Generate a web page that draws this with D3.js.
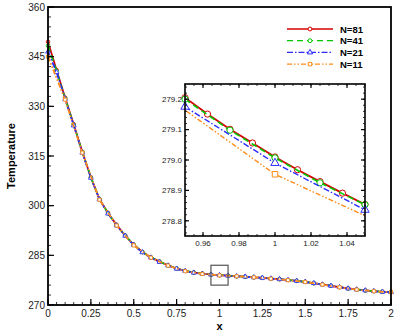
<!DOCTYPE html>
<html>
<head>
<meta charset="utf-8">
<script src="https://cdn.jsdelivr.net/npm/d3@7"></script>
<style>
  body { margin: 0; background: #fff; }
  svg { display: block; font-family: "Liberation Sans", Arial, sans-serif; }
</style>
</head>
<body>
<div id="chart"></div>
<script>
// main plot data (x = position, T = temperature)
const x05 = [0, 0.05, 0.1, 0.15, 0.2, 0.25, 0.3, 0.35, 0.4, 0.45, 0.5, 0.55, 0.6, 0.65, 0.7, 0.75, 0.8, 0.85, 0.9, 0.95,
  1, 1.05, 1.1, 1.15, 1.2, 1.25, 1.3, 1.35, 1.4, 1.45, 1.5, 1.55, 1.6, 1.65, 1.7, 1.75, 1.8, 1.85, 1.9, 1.95, 2];
const x10 = [0, 0.1, 0.2, 0.3, 0.4, 0.5, 0.6, 0.7, 0.8, 0.9, 1, 1.1, 1.2, 1.3, 1.4, 1.5, 1.6, 1.7, 1.8, 1.9, 2];

const t81 = [349.5, 341.0, 332.6, 324.6, 316.3, 308.6, 302.0, 297.8, 294.2, 291.0, 288.2, 286.0, 284.4, 283.1, 282.0,
  281.0, 280.3, 279.8, 279.45, 279.205, 279.01, 278.854, 278.7, 278.55, 278.38, 278.2, 278.0, 277.8, 277.55, 277.3,
  277.0, 276.6, 276.2, 275.8, 275.4, 275.0, 274.7, 274.4, 274.2, 274.0, 273.9];
const t41 = [348.3, 340.7, 332.4, 324.4, 316.2, 308.5, 302.0, 297.7, 294.1, 291.0, 288.2, 286.0, 284.4, 283.1, 282.0,
  281.0, 280.3, 279.8, 279.44, 279.2, 279.007, 278.853, 278.7, 278.55, 278.37, 278.2, 278.0, 277.8, 277.55, 277.3,
  277.0, 276.6, 276.2, 275.8, 275.4, 275.0, 274.7, 274.4, 274.2, 274.0, 273.9];
const t21 = [346.5, 340.3, 332.2, 324.2, 316.0, 308.4, 301.9, 297.6, 294.0, 290.9, 288.1, 285.9, 284.3, 283.0, 281.9,
  280.95, 280.25, 279.75, 279.42, 279.175, 278.99, 278.836, 278.69, 278.54, 278.36, 278.18, 277.98, 277.78, 277.53, 277.28,
  276.98, 276.58, 276.18, 275.78, 275.38, 274.98, 274.68, 274.4, 274.18, 273.98, 273.88];
const t11 = [345.0, 332.0, 316.0, 301.8, 294.0, 288.0, 284.3, 281.9, 280.2, 279.375, 278.953, 278.68, 278.35, 277.95,
  277.5, 276.95, 276.15, 275.35, 274.65, 274.15, 273.85];

// inset data (zoom around x = 1)
const ix81 = [0.95, 0.9625, 0.975, 0.9875, 1, 1.0125, 1.025, 1.0375, 1.05];
const it81 = [279.205, 279.151, 279.101, 279.056, 279.01, 278.968, 278.929, 278.891, 278.854];
const ix41 = [0.95, 0.975, 1, 1.025, 1.05];
const it41 = [279.2, 279.098, 279.007, 278.925, 278.853];
const ix21 = [0.95, 1, 1.05];
const it21 = [279.175, 278.99, 278.836];
const ix11 = [0.9, 1, 1.1];
const it11 = [279.375, 278.953, 278.68];

const labels = ["N=81", "N=41", "N=21", "N=11"];
const xTicks = [0, 0.25, 0.5, 0.75, 1, 1.25, 1.5, 1.75, 2];
const yTicks = [270, 285, 300, 315, 330, 345, 360];
const ixTicks = [0.96, 0.98, 1, 1.02, 1.04];
const iyTicks = [278.8, 278.9, 279.0, 279.1, 279.2];

const styles = [
  { color: "#d40000", dash: null, width: 1.8, mark: "circle" },
  { color: "#00c800", dash: "6,4", width: 1.6, mark: "circle" },
  { color: "#2a2aff", dash: "6,2,1.5,2", width: 1.4, mark: "triangle" },
  { color: "#ff8c1a", dash: "5,2,1.5,2,1.5,2", width: 1.4, mark: "square" }
];

const mainSeries = [
  { x: x05, t: t81 }, { x: x05, t: t41 }, { x: x05, t: t21 }, { x: x10, t: t11 }
];
const insetSeries = [
  { x: ix81, t: it81 }, { x: ix41, t: it41 }, { x: ix21, t: it21 }, { x: ix11, t: it11 }
];

const W = 399, H = 333;
const svg = d3.select("#chart").append("svg").attr("width", W).attr("height", H);

const symbol = (kind, size) => {
  const s = { circle: d3.symbolCircle, triangle: d3.symbolTriangle, square: d3.symbolSquare }[kind];
  return d3.symbol().type(s).size(size)();
};

/**
 * draw one framed plot with inward ticks
 */
const drawPlot = (g, opts) => {
  const { xScale, yScale, xMajor, yMajor, xMinor, yMinor, majLen, minLen, mirror, fontSize, xFmt, yFmt } = opts;
  const [x0, x1] = xScale.range();
  const [y0, y1] = yScale.range();

  const ticks = g.append("g").attr("stroke", "#000");
  const addTicks = (vals, len, w) => {
    vals.forEach((v) => {
      const px = xScale(v);
      ticks.append("line").attr("x1", px).attr("x2", px).attr("y1", y0).attr("y2", y0 - len).attr("stroke-width", w);
      if (mirror) ticks.append("line").attr("x1", px).attr("x2", px).attr("y1", y1).attr("y2", y1 + len).attr("stroke-width", w);
    });
  };
  const addYTicks = (vals, len, w) => {
    vals.forEach((v) => {
      const py = yScale(v);
      ticks.append("line").attr("x1", x0).attr("x2", x0 + len).attr("y1", py).attr("y2", py).attr("stroke-width", w);
      if (mirror) ticks.append("line").attr("x1", x1).attr("x2", x1 - len).attr("y1", py).attr("y2", py).attr("stroke-width", w);
    });
  };
  addTicks(xMinor, minLen, 0.8);
  addTicks(xMajor, majLen, 1.2);
  addYTicks(yMinor, minLen, 0.8);
  addYTicks(yMajor, majLen, 1.2);

  g.append("g").selectAll("text").data(xMajor).join("text")
    .attr("x", (d) => xScale(d)).attr("y", y0 + fontSize + 2)
    .attr("text-anchor", "middle").attr("font-size", fontSize).attr("fill", "#222")
    .text(xFmt);
  g.append("g").selectAll("text").data(yMajor).join("text")
    .attr("x", x0 - 3).attr("y", (d) => yScale(d) + fontSize * 0.35)
    .attr("text-anchor", "end").attr("font-size", fontSize).attr("fill", "#222")
    .text(yFmt);
};

const drawSeries = (g, series, xScale, yScale, clipId, markerSize, inset) => {
  const [xa, xb] = xScale.domain();
  series.forEach((s, i) => {
    const st = styles[i];
    const pts = s.x.map((x, k) => ({ x, t: s.t[k] }));
    const line = d3.line().x((d) => xScale(d.x)).y((d) => yScale(d.t));
    g.append("path").datum(pts)
      .attr("clip-path", `url(#${clipId})`)
      .attr("fill", "none").attr("stroke", st.color)
      .attr("stroke-width", inset ? st.width : 1.7)
      .attr("stroke-dasharray", st.dash)
      .attr("d", line);
    g.append("g").selectAll("path").data(pts.filter((d) => d.x >= xa - 1e-9 && d.x <= xb + 1e-9)).join("path")
      .attr("transform", (d) => `translate(${xScale(d.x)},${yScale(d.t)})`)
      .attr("d", symbol(st.mark, markerSize))
      .attr("fill", "#fff").attr("stroke", st.color).attr("stroke-width", inset ? 1 : 0.9);
  });
};

// ---------- main plot ----------
const margin = { left: 48, right: 391, top: 7, bottom: 305 };
const xScale = d3.scaleLinear().domain([0, 2]).range([margin.left, margin.right]);
const yScale = d3.scaleLinear().domain([270, 360]).range([margin.bottom, margin.top]);

const defs = svg.append("defs");
defs.append("clipPath").attr("id", "clipMain").append("rect")
  .attr("x", margin.left).attr("y", margin.top)
  .attr("width", margin.right - margin.left).attr("height", margin.bottom - margin.top);

const main = svg.append("g");
drawSeries(main, mainSeries, xScale, yScale, "clipMain", 10, false);

drawPlot(main, {
  xScale, yScale, xMajor: xTicks, yMajor: yTicks,
  xMinor: d3.range(0, 2.0001, 0.05), yMinor: d3.range(270, 360.001, 3),
  majLen: 6, minLen: 3, mirror: false, fontSize: 10,
  xFmt: (d) => String(d), yFmt: (d) => String(d)
});

// zoom window marker
main.append("rect")
  .attr("x", xScale(0.95)).attr("y", yScale(282))
  .attr("width", xScale(1.05) - xScale(0.95)).attr("height", yScale(276) - yScale(282))
  .attr("fill", "none").attr("stroke", "#555").attr("stroke-width", 1.2);

main.append("rect")
  .attr("x", margin.left).attr("y", margin.top)
  .attr("width", margin.right - margin.left).attr("height", margin.bottom - margin.top)
  .attr("fill", "none").attr("stroke", "#000").attr("stroke-width", 1.8);

svg.append("text").attr("x", (margin.left + margin.right) / 2).attr("y", 330)
  .attr("text-anchor", "middle").attr("font-size", 11).attr("font-weight", "bold").text("x");
svg.append("text").attr("transform", `translate(15,${(margin.top + margin.bottom) / 2}) rotate(-90)`)
  .attr("text-anchor", "middle").attr("font-size", 11).attr("font-weight", "bold").text("Temperature");

// ---------- legend ----------
const legend = svg.append("g");
labels.forEach((lab, i) => {
  const st = styles[i];
  const y = 29 + i * 11.7;
  legend.append("line").attr("x1", 287).attr("x2", 333).attr("y1", y).attr("y2", y)
    .attr("stroke", st.color).attr("stroke-width", 1.3).attr("stroke-dasharray", st.dash);
  legend.append("path").attr("transform", `translate(310,${y})`).attr("d", symbol(st.mark, 12))
    .attr("fill", "#fff").attr("stroke", st.color).attr("stroke-width", 1);
  legend.append("text").attr("x", 340).attr("y", y + 3.5).attr("font-size", 9.5)
    .attr("font-weight", "bold").text(lab);
});

// ---------- inset ----------
const ixScale = d3.scaleLinear().domain([0.95, 1.05]).range([185, 365]);
const iyScale = d3.scaleLinear().domain([278.75, 279.25]).range([236, 84]);

defs.append("clipPath").attr("id", "clipInset").append("rect")
  .attr("x", 185).attr("y", 84).attr("width", 180).attr("height", 152);

const inset = svg.append("g");
inset.append("rect").attr("x", 185).attr("y", 84).attr("width", 180).attr("height", 152).attr("fill", "#fff");
drawSeries(inset, insetSeries, ixScale, iyScale, "clipInset", 30, true);

drawPlot(inset, {
  xScale: ixScale, yScale: iyScale, xMajor: ixTicks, yMajor: iyTicks,
  xMinor: d3.range(0.95, 1.0501, 0.005), yMinor: d3.range(278.76, 279.25, 0.02),
  majLen: 4, minLen: 2, mirror: true, fontSize: 8,
  xFmt: (d) => String(+d.toFixed(2)), yFmt: (d) => d.toFixed(1)
});

inset.append("rect").attr("x", 185).attr("y", 84).attr("width", 180).attr("height", 152)
  .attr("fill", "none").attr("stroke", "#000").attr("stroke-width", 1.6);
</script>
</body>
</html>
